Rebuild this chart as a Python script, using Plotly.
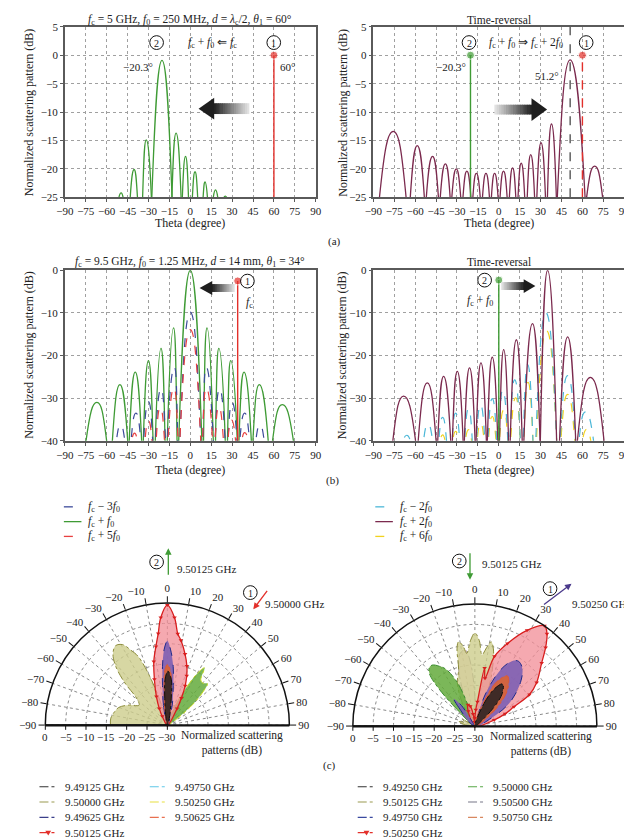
import plotly.graph_objects as go

W, H = 632, 838
SERIF = "Liberation Serif"
INK = "#222222"

# Each lobe of the angular patterns is read off the panels as: peak angle, peak level,
# and the angles where it meets the bottom of the axis (left / right edge).

# ---------------- (a) fc = 5 GHz ----------------
A_FWD_PEAK_DEG = [-49.6, -40.3, -31.6, -20.3, -10.2, -3.4, 3.4, 10.6, 18.1, 25.1]
A_FWD_PEAK_DB = [-24.2, -20.1, -14.9, -0.9, -13.7, -17.8, -20.5, -22.3, -23.7, -24.8]
A_FWD_LEFT_DEG = [-51.2, -43.1, -34.2, -27.6, -13.2, -5.7, 1.5, 9.2, 16.5, 24.2]
A_FWD_RIGHT_DEG = [-48.2, -37.9, -27.9, -13.1, -6.6, -1.3, 5.3, 12.3, 19.7, 26.0]

A_TR_PEAK_DEG = [-75.7, -58.5, -47.5, -38.3, -30.5, -22.9, -16.1, -9.2, -3.0, 3.4, 9.9,
                 16.1, 22.9, 30.3, 37.8, 51.2, 68.8]
A_TR_PEAK_DB = [-13.4, -15.9, -17.8, -19.1, -20.0, -20.4, -20.8, -20.8, -20.8, -20.4, -19.8,
                -19.0, -17.5, -15.4, -12.1, -0.8, -19.5]
A_TR_LEFT_DEG = [-85.6, -63.5, -52, -42, -33.7, -25.7, -18.6, -11.7, -5.3, 0.9, 7.6,
                 13.8, 20.4, 27.3, 34.9, 42, 63]
A_TR_RIGHT_DEG = [-66.5, -53.4, -43.3, -34.9, -27.3, -20, -13.3, -6.7, -0.5, 6, 12.2,
                  18.6, 25.7, 33.5, 41.3, 61.9, 74.5]

A_SOURCE_DEG = 60
A_TARGET_DEG = -20.3
A_BEAM_DEG = 51.2

# ---------------- (b) fc = 9.5 GHz ----------------
B_G_PEAK_DEG = [-67, -50.5, -39.5, -30, -21, -12, 0, 12, 20.5, 29, 38.5, 49.5, 66]
B_G_PEAK_DB = [-31.0, -26.8, -23.9, -21.2, -18.3, -13.5, 0, -13.5, -18.3, -21.2, -23.9, -26.8, -31.5]
B_G_LEFT_DEG = [-74.8, -55.9, -43.8, -33.7, -25.1, -16.5, -8.3, 9.5, 18.1, 26.7, 34.9, 44.9, 59]
B_G_RIGHT_DEG = [-60, -44.9, -34.9, -26.7, -18.1, -9.5, 8.3, 16.5, 25.1, 33.7, 43.8, 55.9, 74]

B_B_PEAK_DEG = [-50, -39, -30, -21, -11.5, 0, 11.5, 21, 30, 39, 50]
B_B_PEAK_DB = [-36.3, -33.5, -30.8, -27.8, -22.7, -9.8, -22.7, -27.8, -31.0, -33.5, -36.3]
B_B_LEFT_DEG = [-53, -42.5, -33.5, -25, -16.5, -7.5, 9, 17.8, 27, 35.5, 47]
B_B_RIGHT_DEG = [-47, -35.5, -27, -17.8, -9, 7.5, 16.5, 25, 33.5, 42.5, 53]

B_R_PEAK_DEG = [-40, -30, -21.5, -11.8, 0, 11.5, 20.5, 29.5, 39]
B_R_PEAK_DB = [-38.2, -35.3, -32.2, -27.6, -13.9, -27.6, -32.0, -35.1, -38.1]
B_R_LEFT_DEG = [-42, -32.5, -24.5, -16, -7.5, 8.8, 17.8, 27, 37]
B_R_RIGHT_DEG = [-38, -27.5, -18.5, -8.8, 7.5, 16, 23.8, 32.5, 41.5]

B_M_PEAK_DEG = [-68.3, -51.3, -39.6, -29.8, -21, -12.8, -4.7, 3.5, 12.6, 24.2, 35, 49.4, 65.7]
B_M_PEAK_DB = [-29.5, -26.4, -24.9, -23.7, -22.9, -21.7, -20.4, -18.6, -16.3, -12.5, 0, -15.6, -25.1]
B_M_LEFT_DEG = [-76, -57.8, -43.8, -33.3, -24.7, -16.3, -8.2, 0.5, 8.2, 18, 29.8, 43.6, 56.4]
B_M_RIGHT_DEG = [-59.7, -45, -34.5, -25.6, -17, -8.9, -0.7, 7, 16.8, 29.6, 41.5, 55.2, 75.5]

B_C_PEAK_DEG = [-66, -50.8, -40.3, -31, -21.7, -13.1, -4.7, 2.8, 11.4, 20.7, 33.8, 49.4, 62.2]
B_C_PEAK_DB = [-38.7, -36.1, -34.5, -33.5, -32.5, -31.6, -30.1, -28.1, -25.7, -22.1, -10, -24.7, -33.2]
B_C_LEFT_DEG = [-68.5, -54, -43, -33.5, -24.5, -16, -7.8, 0.3, 8, 17.6, 26.5, 44, 57.5]
B_C_RIGHT_DEG = [-63.5, -47.5, -37.5, -28, -19, -10, -1.5, 6.5, 15.5, 24.5, 41.5, 55, 68]

B_Y_PEAK_DEG = [-40.3, -31, -21.7, -13.1, -4.7, 3.5, 12.1, 21, 34.3, 49.4, 63]
B_Y_PEAK_DB = [-38.6, -37.8, -37.4, -35.9, -34.3, -32.8, -29.9, -26.3, -14.2, -29.1, -37.3]
B_Y_LEFT_DEG = [-42, -33, -24, -15.5, -7.5, 0.5, 8.5, 18, 27, 44.5, 60]
B_Y_RIGHT_DEG = [-38.5, -29, -19.5, -10.5, -2, 6.5, 15.5, 24.5, 41.5, 54.5, 66]

B_SOURCE_DEG, B_SOURCE_DB = 34, -2.5
B_TARGET_DEG, B_TARGET_DB = 0, -2.3

# ---------------- (c) measured polar patterns (dB) ----------------
C1_KHAKI_DEG = [-90, -83, -76, -70, -62, -55, -49, -45, -41, -37, -33, -29, -26, -23, -19.5, -16, -13]
C1_KHAKI_DB = [-16, -16, -16.6, -17.3, -19.5, -21.5, -20, -15, -10.5, -7.8, -6.7, -7.4, -9.5, -11.7, -18, -25, -30]
C1_GREEN_DEG = [18, 23, 27, 30, 33, 36.5, 40, 44, 47, 51, 56, 62]
C1_GREEN_DB = [-30, -24, -19.5, -15.5, -13.2, -16.2, -16.5, -15.8, -18, -22, -27, -30]
C1_CYAN_DEG = [-26, -21, -17, 14, 18, 23]
C1_CYAN_DB = [-30, -27.5, -30, -30, -27.5, -30]
C1_RED_DEG = [-34, -30, -26, -21, -15.8, -12, -8.3, -5.7, -3.5, 0, 3.8, 6.5, 9.1, 14, 18.3, 21.5, 24.4, 27.5, 30.5, 35]
C1_RED_DB = [-30, -27.5, -25.5, -22.5, -18.3, -14, -10.5, -7.4, -3.5, -0.5, -3.5, -7.4, -8.9, -12, -14.7, -17, -19.4, -22.5, -25.3, -30]
C1_BLUE_DEG = [-16, -11, -7, -4.7, -2.5, 0, 2.5, 5.7, 8.5, 13.8, 19]
C1_BLUE_DB = [-30, -25, -20.2, -15.5, -11.5, -9.3, -11.5, -15.5, -20.2, -25, -30]
C1_ORANGE_DEG = [-13, -8.9, -5.1, -2.8, 0, 3.4, 6.2, 11, 15]
C1_ORANGE_DB = [-30, -25.9, -21.1, -16.7, -15.1, -16.7, -21.1, -25.9, -30]
C1_DARK_DEG = [-14, -10.8, -5.6, -2.8, 0.5, 4.9, 8.4, 16, 20]
C1_DARK_DB = [-30, -28.3, -23.5, -18.7, -16.7, -18.7, -23.5, -28.3, -30]

C2_GREEN_DEG = [-52, -47, -44, -41, -38, -35, -31, -27, -22, -18, -14]
C2_GREEN_DB = [-30, -24, -17.3, -13, -11.8, -11.7, -12.8, -14.3, -18.4, -25, -30]
C2_PINK_DEG = [-22, -17, -12, -7.3, -3, 2]
C2_PINK_DB = [-30, -17, -12, -11.1, -16, -30]
C2_KHAKI_DEG = [-85, -80, -74, -68, -62, -56, -34, -28, -22, -16, -13, -11, -8.5, -6.4, -3, 0,
                3, 5.7, 8.5, 11, 13.5, 16.6, 20, 25]
C2_KHAKI_DB = [-30, -27, -26, -27.5, -26.5, -30, -30, -23, -18.5, -15.5, -10.5, -8.9, -10, -12, -9, -7.1,
               -9, -12.4, -10.5, -8.9, -10.5, -14.6, -20, -30]
C2_RED_DEG = [-30, -24, -18, -13, -8, -3, 0, 3, 6, 9.5, 12, 15.7, 21.5, 28.6, 34.8, 38, 42,
              46.6, 54.8, 60, 63.8, 68, 72.4, 80]
C2_RED_DB = [-30, -26, -24.5, -25, -27, -29, -28, -26, -24, -15.5, -18, -12.2, -8.2, -3.2, 0, -1.2, -4,
             -7.4, -11.4, -14.5, -19.3, -22, -25, -30]
C2_BLUE_DEG = [-46, -41, -37.7, -33, -28, 12, 18, 24.7, 30, 34.2, 40, 46.3, 52, 57.4, 65, 72]
C2_BLUE_DB = [-30, -24, -21.5, -24, -30, -30, -22, -14.7, -11.5, -10.8, -11.8, -14.5, -17.5, -20.5, -26, -30]
C2_ORANGE_DEG = [15, 20, 26, 33, 42, 52, 60]
C2_ORANGE_DB = [-30, -24, -18, -15.3, -18, -24, -30]
C2_DARK_DEG = [16, 22, 28, 33.4, 40, 46, 52]
C2_DARK_DB = [-30, -24, -19.5, -17.6, -19.5, -24, -30]

C1_LEGEND = [["9.49125 GHz", "9.50000 GHz", "9.49625 GHz", "9.50125 GHz"],
             ["9.49750 GHz", "9.50250 GHz", "9.50625 GHz"]]
C2_LEGEND = [["9.49250 GHz", "9.50125 GHz", "9.49750 GHz", "9.50250 GHz"],
             ["9.50000 GHz", "9.50500 GHz", "9.50750 GHz"]]

GREEN = "#3f9b35"
MAROON = "#7b2a4e"
RED = "#e3302b"


def px(x):
    return x / W


def py(y):
    return 1 - y / H


def lobes(left, right, peak_deg, peak_db, floor, deep):
    # one arch per lobe; the extra point far below the axis makes the arch leave the
    # floor steeply (pattern nulls go to -inf dB); segments are broken between lobes
    xs, ys = [], []
    for l, r, p, v in zip(left, right, peak_deg, peak_db):
        xs += [l, l, p, r, r, None]
        ys += [deep, floor, v, floor, deep, None]
    return xs, ys


def lab(v):
    return f"\u2212{abs(v)}" if v < 0 else str(v)


fig = go.Figure()
shapes, notes = [], []


def curve(left, right, pdeg, pdb, yr, color, dash, ax, width=1.3):
    xs, ys = lobes(left, right, pdeg, pdb, yr[0], yr[0] - 8 * (yr[1] - yr[0]))
    fig.add_trace(go.Scatter(x=xs, y=ys, mode="lines", xaxis=ax[0], yaxis=ax[1], connectgaps=False,
                             line=dict(color=color, width=width, dash=dash, shape="spline",
                                       smoothing=1.3, simplify=False),
                             hoverinfo="skip"))


def stem(deg, y0, y1, color, ax, dash="solid", dot=True):
    fig.add_trace(go.Scatter(x=[deg, deg], y=[y0, y1], mode="lines+markers" if dot else "lines",
                             xaxis=ax[0], yaxis=ax[1],
                             line=dict(color=color, width=1.4, dash=dash),
                             marker=dict(size=[0, 8] if dot else 0, color=color), hoverinfo="skip"))


A_RANGE = (-25, 5)
B_RANGE = (-40, 0)

# ---- (a) ----
curve(A_FWD_LEFT_DEG, A_FWD_RIGHT_DEG, A_FWD_PEAK_DEG, A_FWD_PEAK_DB, A_RANGE, GREEN, "solid", ("x", "y"))
stem(A_SOURCE_DEG, -25, 0, RED, ("x", "y"))

curve(A_TR_LEFT_DEG, A_TR_RIGHT_DEG, A_TR_PEAK_DEG, A_TR_PEAK_DB, A_RANGE, MAROON, "solid", ("x2", "y2"))
stem(A_BEAM_DEG, -25, 5, "#555555", ("x2", "y2"), dash="dash", dot=False)
stem(A_TARGET_DEG, -25, 0, GREEN, ("x2", "y2"))
stem(A_SOURCE_DEG, -25, 0, RED, ("x2", "y2"), dash="dash")

# ---- (b) ----
curve(B_G_LEFT_DEG, B_G_RIGHT_DEG, B_G_PEAK_DEG, B_G_PEAK_DB, B_RANGE, GREEN, "solid", ("x3", "y3"))
curve(B_B_LEFT_DEG, B_B_RIGHT_DEG, B_B_PEAK_DEG, B_B_PEAK_DB, B_RANGE, "#3d4b9a", "dash", ("x3", "y3"), 1.2)
curve(B_R_LEFT_DEG, B_R_RIGHT_DEG, B_R_PEAK_DEG, B_R_PEAK_DB, B_RANGE, "#e84040", "dash", ("x3", "y3"), 1.2)
stem(B_SOURCE_DEG, -40, B_SOURCE_DB, RED, ("x3", "y3"))

curve(B_Y_LEFT_DEG, B_Y_RIGHT_DEG, B_Y_PEAK_DEG, B_Y_PEAK_DB, B_RANGE, "#f2d21e", "dash", ("x4", "y4"), 1.2)
curve(B_C_LEFT_DEG, B_C_RIGHT_DEG, B_C_PEAK_DEG, B_C_PEAK_DB, B_RANGE, "#4db8d8", "dash", ("x4", "y4"), 1.2)
curve(B_M_LEFT_DEG, B_M_RIGHT_DEG, B_M_PEAK_DEG, B_M_PEAK_DB, B_RANGE, MAROON, "solid", ("x4", "y4"))
stem(B_TARGET_DEG, -40, B_TARGET_DB, GREEN, ("x4", "y4"))


# ---- (c) polar ----
def lobe(theta, r, fill, line, dash, sub, marker=False):
    fig.add_trace(go.Scatterpolar(
        theta=theta, r=r, subplot=sub, mode="lines+markers" if marker else "lines",
        fill="toself", fillcolor=fill,
        line=dict(color=line, width=1.3 if marker else 1, dash=dash, shape="spline"),
        marker=dict(symbol="triangle-down", size=4, color=line), hoverinfo="skip"))


lobe(C1_KHAKI_DEG, C1_KHAKI_DB, "rgba(205,205,140,0.8)", "#8c8c3c", "dashdot", "polar")
lobe(C1_GREEN_DEG, C1_GREEN_DB, "rgba(100,170,60,0.85)", "#c8d820", "dashdot", "polar")
lobe(C1_CYAN_DEG, C1_CYAN_DB, "rgba(150,210,230,0.6)", "#4db8d8", "dashdot", "polar")
lobe(C1_RED_DEG, C1_RED_DB, "rgba(242,140,150,0.75)", "#d81e1e", "solid", "polar", marker=True)
lobe(C1_BLUE_DEG, C1_BLUE_DB, "rgba(125,95,180,0.9)", "#1e2a8a", "dash", "polar")
lobe(C1_ORANGE_DEG, C1_ORANGE_DB, "rgba(215,100,55,0.92)", "#e05a30", "dashdot", "polar")
lobe(C1_DARK_DEG, C1_DARK_DB, "rgba(55,40,38,0.95)", "#111111", "dashdot", "polar")

lobe(C2_PINK_DEG, C2_PINK_DB, "rgba(240,195,200,0.6)", "#887788", "dashdot", "polar2")
lobe(C2_KHAKI_DEG, C2_KHAKI_DB, "rgba(205,205,140,0.8)", "#8c8c3c", "dashdot", "polar2")
lobe(C2_GREEN_DEG, C2_GREEN_DB, "rgba(100,170,60,0.85)", "#3c8c30", "dashdot", "polar2")
lobe(C2_RED_DEG, C2_RED_DB, "rgba(242,140,150,0.75)", "#d81e1e", "solid", "polar2", marker=True)
lobe(C2_BLUE_DEG, C2_BLUE_DB, "rgba(125,95,180,0.9)", "#1e2a8a", "dash", "polar2")
lobe(C2_ORANGE_DEG, C2_ORANGE_DB, "rgba(215,100,55,0.92)", "#e05a30", "dashdot", "polar2")
lobe(C2_DARK_DEG, C2_DARK_DB, "rgba(55,40,38,0.95)", "#111111", "dashdot", "polar2")

# ---- axes ----
tickfont = dict(family=SERIF, size=11, color=INK)


def cart(n, x0, x1, y0, y1, yr, dt):
    sx = "" if n == 1 else str(n)
    xt = list(range(-90, 91, 15))
    yt = list(range(yr[0], yr[1] + 1, dt))
    common = dict(showline=True, mirror=True, linecolor="#5a5a5a", linewidth=1.5,
                  showgrid=True, gridcolor="#a0a0a0", griddash="dot", gridwidth=1,
                  zeroline=False, ticks="outside", ticklen=3, tickcolor="#5a5a5a",
                  tickfont=tickfont, fixedrange=True)
    fig.layout["xaxis" + sx] = dict(domain=[px(x0), px(x1)], anchor="y" + sx, range=[-90, 90],
                                    tickvals=xt, ticktext=[lab(v) for v in xt], **common)
    fig.layout["yaxis" + sx] = dict(domain=[py(y1), py(y0)], anchor="x" + sx, range=list(yr),
                                    tickvals=yt, ticktext=[lab(v) for v in yt], **common)


cart(1, 49, 306, 13, 186, A_RANGE, 5)
cart(2, 365, 622, 13, 186, A_RANGE, 5)
cart(3, 49, 306, 260, 433, B_RANGE, 10)
cart(4, 365, 622, 260, 433, B_RANGE, 10)

ang = list(range(-90, 91, 10))
rad = list(range(-30, 1, 5))
POLAR_R = 125


def polar(cx, cy, R):
    return dict(
        domain=dict(x=[px(cx - R), px(cx + R)], y=[py(cy), py(cy - R)]),
        sector=[0, 180], bgcolor="white",
        angularaxis=dict(rotation=90, direction="clockwise", tickvals=ang,
                         ticktext=[lab(v) for v in ang], ticks="outside", ticklen=6,
                         tickcolor="#111", showline=True, linecolor="#111", linewidth=1.5,
                         showgrid=True, gridcolor="#8a8a8a", griddash="dot", tickfont=tickfont),
        radialaxis=dict(range=[-30, 0], angle=180, tickvals=rad, showticklabels=False,
                        side="counterclockwise", ticks="outside", ticklen=4, tickcolor="#111",
                        showline=True, linecolor="#111", linewidth=1.5, showgrid=True,
                        gridcolor="#8a8a8a", griddash="dot"))


POLAR_CENTERS = [(154, 722), (469, 723)]
fig.update_layout(polar=polar(*POLAR_CENTERS[0], POLAR_R), polar2=polar(*POLAR_CENTERS[1], POLAR_R))
for cx, cy in POLAR_CENTERS:
    shapes.append(dict(type="line", xref="paper", yref="paper", x0=px(cx - POLAR_R), x1=px(cx + POLAR_R),
                       y0=py(cy), y1=py(cy), line=dict(color="#111", width=1.5)))


# ---- text helpers ----
def text(x, y, s, size=11, anchor="center", angle=0, color=INK):
    notes.append(dict(x=px(x), y=py(y), xref="paper", yref="paper", text=s, showarrow=False,
                      xanchor=anchor, yanchor="middle", textangle=angle,
                      font=dict(family=SERIF, size=size, color=color)))


# radial tick labels of the half-polar plots, laid along the left baseline
for cx, cy in POLAR_CENTERS:
    for v in rad:
        text(cx - POLAR_R * (v - rad[0]) / (rad[-1] - rad[0]), cy + 12, lab(v), 11)


def ring(cx, cy, s, r=7):
    shapes.append(dict(type="circle", xref="paper", yref="paper", x0=px(cx - r), x1=px(cx + r),
                       y0=py(cy + r), y1=py(cy - r), line=dict(color="#111", width=1)))
    text(cx, cy + 0.5, s, size=10)


def grad_arrow(x_tail, x_tip, yc, head_len, head_h, shaft_h, n=16):
    d = 1 if x_tip > x_tail else -1
    xb = x_tip - d * head_len
    for i in range(n):
        a = x_tail + (xb - x_tail) * i / n
        b = x_tail + (xb - x_tail) * (i + 1) / n + d * 0.6
        g = int(232 - (i + 0.5) / n * 200)
        shapes.append(dict(type="rect", xref="paper", yref="paper", x0=px(min(a, b)), x1=px(max(a, b)),
                           y0=py(yc + shaft_h / 2), y1=py(yc - shaft_h / 2),
                           fillcolor=f"rgb({g},{g},{g})", line=dict(width=0)))
    shapes.append(dict(type="path", xref="paper", yref="paper", fillcolor="#1e1e1e", line=dict(width=0),
                       path=f"M {px(xb)},{py(yc - head_h / 2)} L {px(x_tip)},{py(yc)} "
                            f"L {px(xb)},{py(yc + head_h / 2)} Z"))


def arrow(xh, yh, dx, dy, color):
    notes.append(dict(x=px(xh), y=py(yh), xref="paper", yref="paper", ax=dx, ay=dy,
                      axref="pixel", ayref="pixel", text="", showarrow=True, arrowhead=2,
                      arrowsize=1, arrowwidth=1.3, arrowcolor=color))


f = "<i>f</i>"
# titles
text(177, 6, f"{f}<sub>c</sub> = 5 GHz, {f}<sub>0</sub> = 250 MHz, <i>d</i> = <i>λ</i><sub>c</sub>/2, "
             f"<i>θ</i><sub>1</sub> = 60°", 11.5)
text(494, 6, "Time-reversal", 11.5)
text(177, 252, f"{f}<sub>c</sub> = 9.5 GHz, {f}<sub>0</sub> = 1.25 MHz, <i>d</i> = 14 mm, "
               f"<i>θ</i><sub>1</sub> = 34°", 11.5)
text(494, 252, "Time-reversal", 11.5)
for x in (12, 333):
    text(x, 100, "Normalized scattering pattern (dB)", 12, angle=-90)
    text(x, 346, "Normalized scattering pattern (dB)", 12, angle=-90)
for x in (177, 494):
    text(x, 212, "Theta (degree)", 12)
    text(x, 463, "Theta (degree)", 12)
text(325, 231, "(a)", 11)
text(323, 473, "(b)", 11)
text(320, 762, "(c)", 11)

# (a) labels
ring(143, 29, "2")
ring(263, 29, "1")
text(200, 29, f"{f}<sub>c</sub> + {f}<sub>0</sub> ⇐ {f}<sub>c</sub>", 11.5)
text(124, 54, "−20.3°", 11)
text(277, 54, "60°", 11)
ring(463, 29, "2")
ring(583, 29, "1")
text(521, 29, f"{f}<sub>c</sub> + {f}<sub>0</sub> ⇒ {f}<sub>c</sub> + 2{f}<sub>0</sub>", 11.5)
text(445, 54, "−20.3°", 11)
text(543, 63, "51.2°", 11)
grad_arrow(238, 186, 96, 16, 22, 11)
grad_arrow(489, 543, 97, 16, 23, 10)

# (b) labels
ring(236, 271, "1")
text(238, 293, f"{f}<sub>c</sub>", 11.5)
ring(479, 270, "2")
text(490, 291, f"{f}<sub>c</sub> + {f}<sub>0</sub>", 11.5, anchor="right")
grad_arrow(223, 187, 278, 13, 14, 8)
grad_arrow(496, 531, 276, 12, 14, 8)

# (b) legends
for x0, items in ((48, [("#3d4b9a", "dash", f"{f}<sub>c</sub> − 3{f}<sub>0</sub>"),
                        (GREEN, "solid", f"{f}<sub>c</sub> + {f}<sub>0</sub>"),
                        ("#e84040", "dash", f"{f}<sub>c</sub> + 5{f}<sub>0</sub>")]),
                  (367, [("#4db8d8", "dash", f"{f}<sub>c</sub> − 2{f}<sub>0</sub>"),
                         (MAROON, "solid", f"{f}<sub>c</sub> + 2{f}<sub>0</sub>"),
                         ("#f2d21e", "dash", f"{f}<sub>c</sub> + 6{f}<sub>0</sub>")])):
    for k, (c, d, s) in enumerate(items):
        yy = 500 + 15 * k
        shapes.append(dict(type="line", xref="paper", yref="paper", x0=px(x0), x1=px(x0 + 18),
                           y0=py(yy), y1=py(yy), line=dict(color=c, width=1.3, dash=d)))
        text(x0 + 23, yy, s, 11.5, anchor="left")

# (c) labels
arrow(155, 542, 0, 28, GREEN)
ring(143, 556, "2")
text(162, 563, "9.50125 GHz", 11, anchor="left")
ring(239, 587, "1")
arrow(242, 604, 15, -20, RED)
text(252, 599, "9.50000 GHz", 11, anchor="left")
arrow(464, 574, 0, -28, GREEN)
ring(453, 555, "2")
text(474, 558, "9.50125 GHz", 11, anchor="left")
ring(546, 583, "1")
arrow(568, 578, -29, 22, "#4b3a8c")
text(566, 599, "9.50250 GHz", 11, anchor="left")
text(220, 740, "Normalized scattering<br>patterns (dB)", 11.5)
text(537, 741, "Normalized scattering<br>patterns (dB)", 11.5)

# (c) legends
C1_COLORS = [["#333333", "#9a9a50", "#3a3f8a", RED], ["#5fc8e8", "#e8e040", "#e87050"]]
C2_COLORS = [["#333333", "#9a9a50", "#3a4aa0", RED], ["#58a848", "#777788", "#d88860"]]
for gx, labels, colors in ((23, C1_LEGEND, C1_COLORS), (349, C2_LEGEND, C2_COLORS)):
    for col, (labs, cols) in enumerate(zip(labels, colors)):
        x0 = gx + col * 113
        for k, (s, c) in enumerate(zip(labs, cols)):
            yy = 784 + 15.5 * k
            shapes.append(dict(type="line", xref="paper", yref="paper", x0=px(x0), x1=px(x0 + 17),
                               y0=py(yy), y1=py(yy), line=dict(color=c, width=1.1, dash="dashdot")))
            if c == RED:
                shapes.append(dict(type="path", xref="paper", yref="paper", fillcolor=RED,
                                   line=dict(width=0),
                                   path=f"M {px(x0 + 6)},{py(yy - 2)} L {px(x0 + 12)},{py(yy - 2)} "
                                        f"L {px(x0 + 9)},{py(yy + 3)} Z"))
            text(x0 + 24, yy, s, 11, anchor="left")

fig.update_layout(width=W, height=H, margin=dict(l=0, r=0, t=0, b=0), showlegend=False,
                  paper_bgcolor="white", plot_bgcolor="white", shapes=shapes, annotations=notes,
                  font=dict(family=SERIF, color=INK))
fig.write_html("out.html")
